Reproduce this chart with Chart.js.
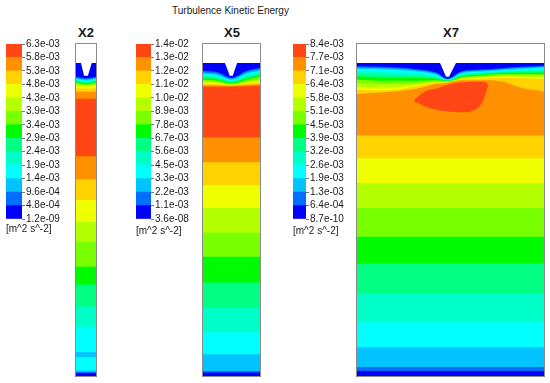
<!DOCTYPE html>
<html>
<head>
<meta charset="utf-8">
<script src="https://cdn.jsdelivr.net/npm/chart.js@4.4.1/dist/chart.umd.min.js"></script>
<style>
  body { margin: 0; background: #fff; }
  #page { position: relative; width: 550px; height: 383px; overflow: hidden; font-family: 'Liberation Sans', Arial, sans-serif; color: #1a1a1a; }
  .abs { position: absolute; }
  .title { font-size: 10px; white-space: nowrap; }
  .label { font-size: 13px; font-weight: bold; transform: translateX(-50%); white-space: nowrap; }
  .units { font-size: 10px; white-space: nowrap; }
  .box { border: 1px solid #8c8c8c; }
  .box canvas { display: block; }
</style>
</head>
<body>
<div id="page">
  <div class="abs title" style="left:172px; top:5px;">Turbulence Kinetic Energy</div>

  <div class="abs label" style="left:86px; top:25px;">X2</div>
  <div class="abs label" style="left:232px; top:25px;">X5</div>
  <div class="abs label" style="left:451px; top:25px;">X7</div>

  <canvas id="cb2" class="abs" width="70" height="190" style="left:6px; top:37px;"></canvas>
  <canvas id="cb5" class="abs" width="70" height="190" style="left:136px; top:37px;"></canvas>
  <canvas id="cb7" class="abs" width="70" height="190" style="left:293px; top:37px;"></canvas>

  <div class="abs units" style="left:6px; top:223px;">[m^2 s^-2]</div>
  <div class="abs units" style="left:136px; top:225px;">[m^2 s^-2]</div>
  <div class="abs units" style="left:293px; top:225px;">[m^2 s^-2]</div>

  <div class="abs box" style="left:75px; top:43px;"><canvas id="p2" width="20" height="332"></canvas></div>
  <div class="abs box" style="left:202px; top:43px;"><canvas id="p5" width="57" height="332"></canvas></div>
  <div class="abs box" style="left:356px; top:43px;"><canvas id="p7" width="187" height="332"></canvas></div>
</div>

<script>
// contour levels, bottom (lowest) to top
const levelColors = ['#0000ff', '#006eff', '#00c3ff', '#00ffff', '#00ffc8', '#00ff82',
    '#00fa00', '#78ff00', '#b4ff00', '#f0ff00', '#ffd200', '#ff9100', '#ff4614'];

const x2Ticks = ['1.2e-09', '4.8e-04', '9.6e-04', '1.4e-03', '1.9e-03', '2.4e-03', '2.9e-03',
    '3.4e-03', '3.9e-03', '4.3e-03', '4.8e-03', '5.3e-03', '5.8e-03', '6.3e-03'];
const x5Ticks = ['3.6e-08', '1.1e-03', '2.2e-03', '3.3e-03', '4.5e-03', '5.6e-03', '6.7e-03',
    '7.8e-03', '8.9e-03', '1.0e-02', '1.1e-02', '1.2e-02', '1.3e-02', '1.4e-02'];
const x7Ticks = ['8.7e-10', '6.4e-04', '1.3e-03', '1.9e-03', '2.6e-03', '3.2e-03', '3.9e-03',
    '4.5e-03', '5.1e-03', '5.8e-03', '6.4e-03', '7.1e-03', '7.7e-03', '8.4e-03'];

// domain depth (0 = top of box) and widths
const depth = 334;
const x2Width = 21, x5Width = 58.5, x7Width = 188;

// X2: free surface with notch, curved bands near the top, then flat bands
const x2Surface = [[0, 19], [5.2, 19], [8.5, 32], [12.5, 32], [16.5, 19], [21, 19]];
const x2CurveX = [0, 10.5, 21];
const x2Curves = [
    [33, 34.5, 33], [34, 35.5, 34], [35, 36.5, 35], [36, 37.5, 36], [37, 38.5, 37], [38, 39.5, 38],
    [39, 40.5, 39], [40, 41.5, 40], [41.5, 42.5, 41.5], [44.5, 45, 44.5], [48, 48, 48], [55, 55, 55]
];
const x2CurveLevels = [1, 2, 3, 4, 5, 6, 7, 8, 9, 10, 11, 12];
const x2Flat = [113, 136, 157, 179, 199, 224, 242, 264, 285, 310, 315, 328.5, 330.5];
const x2FlatLevels = [11, 10, 9, 8, 7, 6, 5, 4, 3, 2, 3, 2, 0];

// X5
const x5Surface = [[0, 19], [22.5, 19], [27.5, 32], [30.5, 32], [35, 19], [58.5, 19]];
const x5CurveX = [0, 15, 29, 45, 58.5];
const x5Curves = [
    [27, 28.5, 34, 27, 24], [28.5, 30, 35, 28.5, 25.5], [30, 31.5, 36, 30, 27],
    [31.5, 33, 37, 31.5, 28.5], [33, 34, 38, 33, 30], [34.5, 35.5, 39, 34.5, 31.5],
    [36, 37, 40, 36, 33], [37, 38, 40.5, 37.5, 35], [38.5, 39, 41, 39, 37],
    [40, 40.5, 41.5, 40, 39], [41.5, 41.5, 42, 41, 40.5], [43, 43, 43, 42.5, 42]
];
const x5CurveLevels = [1, 2, 3, 4, 5, 6, 7, 8, 9, 10, 11, 12];
const x5Flat = [94, 119, 142, 165, 190, 214, 240, 265, 290, 312, 329, 330.5];
const x5FlatLevels = [11, 10, 9, 8, 7, 6, 5, 4, 3, 2, 1, 0];

// X7
const x7Surface = [[0, 19], [83.5, 19], [89.5, 33], [92.5, 33], [99.5, 19], [188, 19]];
const x7CurveX = [0, 30, 60, 80, 91, 105, 125, 145, 165, 188];
const x7Curves = [
    [22.3, 23, 25.3, 28.7, 35, 27.5, 25.7, 24.3, 23, 22],
    [23.7, 24.3, 26.3, 30, 35.4, 28.5, 26.7, 25.3, 24, 22.7],
    [25, 25.7, 27.7, 31, 35.8, 29.5, 27.7, 26.3, 25, 23.7],
    [27.7, 28.3, 29.7, 32.5, 36.2, 30.5, 28.7, 27.3, 26.3, 25.3],
    [30.3, 31, 32, 34, 36.6, 31.5, 29.7, 28.3, 27.7, 27],
    [32.7, 33.7, 34.3, 35, 37, 32.5, 30.7, 29.3, 29, 28.7],
    [36, 37, 37, 36.5, 37.4, 33.5, 31.7, 30.3, 30.3, 30.3],
    [39.3, 40.3, 39.3, 37.5, 37.8, 34.3, 32.7, 31.3, 31.7, 32],
    [43, 43.7, 41, 38.5, 38.2, 35, 33.7, 32.5, 33, 33.7],
    [46.3, 46.7, 42.5, 39.3, 38.6, 35.7, 35, 34, 34.5, 35.3],
    [50.3, 48.3, 45, 40, 39, 36.5, 36.5, 37.5, 44, 47.7]
];
const x7CurveLevels = [1, 2, 3, 4, 5, 6, 7, 8, 9, 10, 11];
// high-TKE pocket below the notch
const x7PocketTop = [[56.8, 57], [66.8, 48.7], [83.5, 43.7], [93.5, 40.3], [103.5, 38.7],
    [123.5, 38], [130.2, 38.7], [131.8, 42]];
const x7PocketBottom = [[56.8, 57], [66.8, 62], [83.5, 67], [103.5, 68.7], [120.2, 65.3],
    [126.8, 57], [131.8, 42]];
const x7Flat = [92, 115, 140, 165, 194, 221, 251, 280, 305, 325, 329];
const x7FlatLevels = [10, 9, 8, 7, 6, 5, 4, 3, 2, 1, 0];

const font = "'Liberation Sans', Arial, sans-serif";

const toPts = arr => arr.map(p => ({ x: p[0], y: p[1] }));

// each layer is a boundary line filled down to the bottom with the colour below it;
// listed shallow -> deep, deeper ones are painted over the shallower ones
function buildLayers(width, surface, curveX, curves, curveLevels, flat, flatLevels, extra) {
    const layers = [{ points: toPts(surface), level: 0, smooth: false }];
    curves.forEach((c, i) => {
        layers.push({ points: c.map((d, j) => ({ x: curveX[j], y: d })), level: curveLevels[i], smooth: true });
    });
    (extra || []).forEach(e => layers.push(e));
    flat.forEach((d, i) => {
        layers.push({ points: [{ x: 0, y: d }, { x: width, y: d }], level: flatLevels[i], smooth: false });
    });
    return layers;
}

function drawPanel(id, width, layers) {
    const n = layers.length;
    new Chart(document.getElementById(id), {
        type: 'line',
        data: {
            datasets: layers.map((l, i) => ({
                data: l.points,
                backgroundColor: levelColors[l.level],
                borderWidth: 0,
                pointRadius: 0,
                fill: l.fill !== undefined ? l.fill : { value: depth },
                cubicInterpolationMode: l.smooth ? 'monotone' : 'default',
                order: n - i
            }))
        },
        options: {
            responsive: false,
            animation: false,
            events: [],
            layout: { padding: 0 },
            plugins: { legend: { display: false }, tooltip: { enabled: false } },
            scales: {
                x: { type: 'linear', min: 0, max: width, display: false },
                y: { type: 'linear', min: 0, max: depth, reverse: true, display: false }
            }
        }
    });
}

function drawColorbar(id, ticks, barWidth, canvasWidth) {
    new Chart(document.getElementById(id), {
        type: 'bar',
        data: {
            labels: [''],
            datasets: levelColors.map((c, i) => ({
                data: [[i, i + 1]],
                backgroundColor: c,
                borderWidth: 0,
                barPercentage: 1,
                categoryPercentage: 1
            }))
        },
        options: {
            responsive: false,
            animation: false,
            events: [],
            layout: { padding: { top: 7, bottom: 8 } },
            plugins: { legend: { display: false }, tooltip: { enabled: false } },
            scales: {
                x: { display: false, stacked: true },
                y: {
                    position: 'right',
                    min: 0,
                    max: ticks.length - 1,
                    afterFit: s => { s.width = canvasWidth - barWidth; },
                    ticks: {
                        stepSize: 1,
                        autoSkip: false,
                        padding: 1,
                        color: '#1a1a1a',
                        font: { family: font, size: 10 },
                        callback: v => ticks[v]
                    },
                    grid: { drawOnChartArea: false, tickLength: 3, color: '#777' },
                    border: { display: false }
                }
            }
        }
    });
}

drawColorbar('cb2', x2Ticks, 16, 70);
drawColorbar('cb5', x5Ticks, 15, 70);
drawColorbar('cb7', x7Ticks, 13, 70);

drawPanel('p2', x2Width, buildLayers(x2Width, x2Surface, x2CurveX, x2Curves, x2CurveLevels, x2Flat, x2FlatLevels));
drawPanel('p5', x5Width, buildLayers(x5Width, x5Surface, x5CurveX, x5Curves, x5CurveLevels, x5Flat, x5FlatLevels));
// pocket: top edge filled down to the bottom edge (next dataset)
drawPanel('p7', x7Width, buildLayers(x7Width, x7Surface, x7CurveX, x7Curves, x7CurveLevels, x7Flat, x7FlatLevels, [
    { points: toPts(x7PocketTop), level: 12, smooth: true, fill: '+1' },
    { points: toPts(x7PocketBottom), level: 12, smooth: true, fill: false }
]));
</script>
</body>
</html>
